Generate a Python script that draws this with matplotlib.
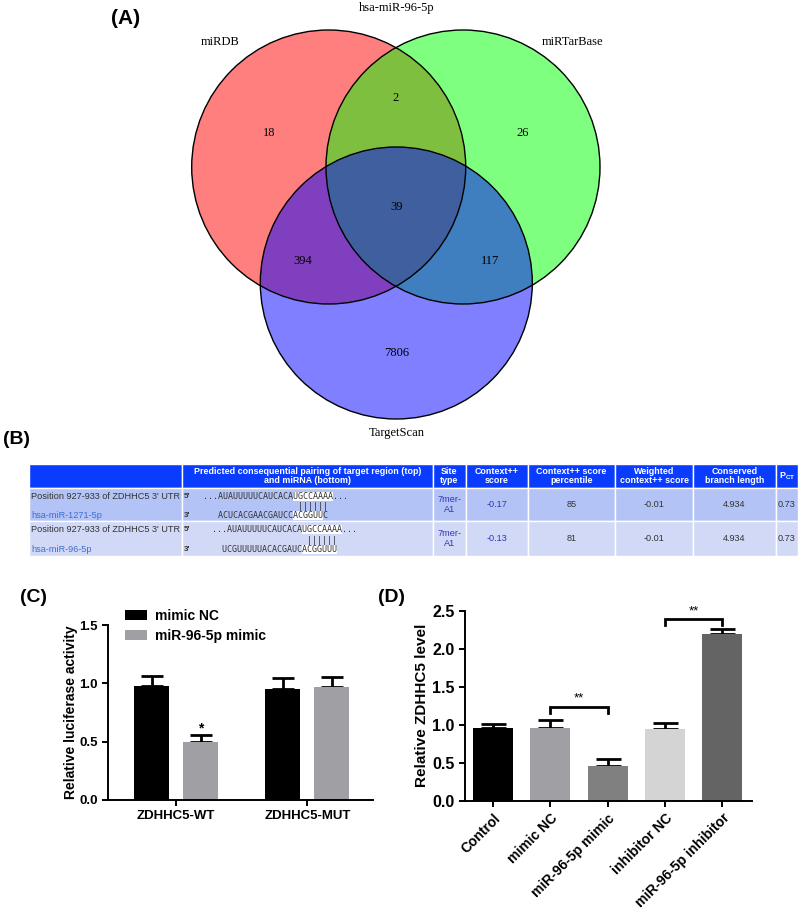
import matplotlib
matplotlib.use("Agg")
import matplotlib.pyplot as plt
from matplotlib.patches import Circle, Rectangle, Patch

plt.rcParams['font.family'] = ['Liberation Sans', 'DejaVu Sans']

# ---------------- data ----------------
venn_title = "hsa-miR-96-5p"
set_names = ["miRDB", "miRTarBase", "TargetScan"]
set_colors = ["#FF0000", "#00FF00", "#0000FF"]
# region counts: miRDB only, miRTarBase only, TargetScan only, DB&TarBase, DB&TS, TarBase&TS, all
region_counts = ["18", "26", "7806", "2", "394", "117", "39"]

table_header = ["", "Predicted consequential pairing of target region (top)\nand miRNA (bottom)",
                "Site\ntype", "Context++\nscore", "Context++ score\npercentile",
                "Weighted\ncontext++ score", "Conserved\nbranch length", r"P$_{\mathregular{CT}}$"]
row_sites = ["Position 927-933 of ZDHHC5 3' UTR", "Position 927-933 of ZDHHC5 3' UTR"]
row_mirnas = ["hsa-miR-1271-5p", "hsa-miR-96-5p"]
target_seqs = ["AUAUUUUUCAUCACAUGCCAAAA", "AUAUUUUUCAUCACAUGCCAAAA"]
mirna_seqs = ["ACUCACGAACGAUCCACGGUUC", "UCGUUUUUACACGAUCACGGUUU"]
site_types = ["7mer-\nA1", "7mer-\nA1"]
context_scores = ["-0.17", "-0.13"]
context_percentiles = ["85", "81"]
weighted_scores = ["-0.01", "-0.01"]
branch_lengths = ["4.934", "4.934"]
pct_values = ["0.73", "0.73"]

luc_groups = ["ZDHHC5-WT", "ZDHHC5-MUT"]
luc_series = ["mimic NC", "miR-96-5p mimic"]
luc_means = [[0.98, 0.955], [0.495, 0.972]]
luc_errs = [[0.085, 0.09], [0.06, 0.085]]
luc_colors = ["#000000", "#A0A0A4"]

lvl_groups = ["Control", "mimic NC", "miR-96-5p mimic", "inhibitor NC", "miR-96-5p inhibitor"]
lvl_means = [0.952, 0.96, 0.46, 0.943, 2.20]
lvl_errs = [0.057, 0.10, 0.084, 0.075, 0.054]
lvl_colors = ["#000000", "#A0A0A4", "#808080", "#D4D4D4", "#646464"]

# ---------------- figure ----------------
fig = plt.figure(figsize=(8, 9.1), dpi=100)
ax0 = fig.add_axes([0, 0, 1, 1])
ax0.set_xlim(0, 800)
ax0.set_ylim(910, 0)
ax0.axis('off')

# ---- (A) Venn ----
centers = [(328.7, 167), (463, 167), (396.3, 283)]
radii = [137, 137, 136]
for (cx, cy), r, col in zip(centers, radii, set_colors):
    ax0.add_patch(Circle((cx, cy), r, facecolor=col, alpha=0.5, edgecolor='none'))
for (cx, cy), r in zip(centers, radii):
    ax0.add_patch(Circle((cx, cy), r, facecolor='none', edgecolor='black', lw=1.0))
serif = ['Liberation Serif', 'DejaVu Serif']
ax0.text(397, 8, venn_title, ha='center', va='center', fontsize=9, family=serif)
name_pos = [(220, 42), (572, 42), (397, 433)]
for (x, y), n in zip(name_pos, set_names):
    ax0.text(x, y, n, ha='center', va='center', fontsize=9, family=serif)
count_pos = [(269, 133), (523, 133), (397, 353), (396, 98), (303, 261), (490, 261), (397, 207)]
for (x, y), c in zip(count_pos, region_counts):
    ax0.text(x, y, c, ha='center', va='center', fontsize=9, family=serif)

# ---- (B) table ----
col_edges = [29, 182, 433, 466, 528, 615, 693, 776, 798]
row_edges = [464, 488, 521, 556]
header_col = "#0A3CFF"
row_cols = ["#B4C3F5", "#D2D9F7"]
for j in range(len(col_edges) - 1):
    ax0.add_patch(Rectangle((col_edges[j], row_edges[0]), col_edges[j + 1] - col_edges[j],
                            row_edges[1] - row_edges[0], facecolor=header_col,
                            edgecolor='white', lw=1.0))
    ax0.text((col_edges[j] + col_edges[j + 1]) / 2, (row_edges[0] + row_edges[1]) / 2,
             table_header[j], ha='center', va='center', color='white', fontsize=6.4,
             fontweight='bold', linespacing=1.0)
for i in range(2):
    y0, y1 = row_edges[i + 1], row_edges[i + 2]
    for j in range(len(col_edges) - 1):
        ax0.add_patch(Rectangle((col_edges[j], y0), col_edges[j + 1] - col_edges[j], y1 - y0,
                                facecolor=row_cols[i], edgecolor='white', lw=1.0))
    h = y1 - y0
    ty, by, my = y0 + 0.25 * h, y0 + 0.55 * h, y0 + 0.82 * h
    txt = '#333333'
    ax0.text(col_edges[0] + 2, ty, row_sites[i], ha='left', va='center', fontsize=6.6, color=txt)
    ax0.text(col_edges[0] + 2, my, row_mirnas[i], ha='left', va='center', fontsize=6.6, color='#3C6ED2')
    # sequences
    ax0.text(col_edges[1] + 2, ty, "5'", ha='left', va='center', fontsize=5.8, color=txt, fontweight='bold')
    ax0.text(col_edges[1] + 2, my, "3'", ha='left', va='center', fontsize=5.8, color=txt, fontweight='bold')
    fs = 6.0
    cw = 0.6021 * fs * 100 / 72
    x0 = [203, 212][i]
    tline = "..." + target_seqs[i] + "..."
    seed_t = target_seqs[i].find("UGCCAAAA") + 3
    moff = [3, 2][i]
    seed_m = mirna_seqs[i].find("ACGGUU") + moff
    mlen = [6, 7][i]
    ax0.add_patch(Rectangle((x0 + seed_t * cw, ty - 4.5), 8 * cw, 9, facecolor='white', edgecolor='none'))
    ax0.add_patch(Rectangle((x0 + seed_m * cw, my - 4.5), mlen * cw, 9, facecolor='white', edgecolor='none'))
    mono = ['DejaVu Sans Mono']
    ax0.text(x0, ty, tline, ha='left', va='center', fontsize=fs, family=mono, color=txt)
    ax0.text(x0, my, " " * moff + mirna_seqs[i], ha='left', va='center', fontsize=fs, family=mono, color=txt)
    ax0.text(x0, by, " " * (seed_t + 1) + "||||||", ha='left', va='center', fontsize=fs,
             family=mono, color=txt)
    vals = [site_types[i], context_scores[i], context_percentiles[i], weighted_scores[i],
            branch_lengths[i], pct_values[i]]
    colors = ['#3333BB', '#3333BB', txt, txt, txt, txt]
    for k, (v, c) in enumerate(zip(vals, colors)):
        j = k + 2
        ax0.text((col_edges[j] + col_edges[j + 1]) / 2, (y0 + y1) / 2, v, ha='center', va='center',
                 fontsize=6.6, color=c, linespacing=1.1)

# panel labels
for x, y, s, fsz in [(140, 18, "(A)", 15), (30, 439, "(B)", 14), (47, 598, "(C)", 14), (405, 598, "(D)", 14)]:
    ax0.text(x, y, s, ha='right', va='center', fontsize=fsz, fontweight='bold')


def style(ax, tick_fs):
    for s in ['top', 'right']:
        ax.spines[s].set_visible(False)
    for s in ['left', 'bottom']:
        ax.spines[s].set_linewidth(1.4)
    ax.tick_params(width=1.4, length=4, labelsize=tick_fs)
    for lab in ax.get_yticklabels() + ax.get_xticklabels():
        lab.set_fontweight('bold')


# ---- (C) ----
axc = fig.add_axes([108 / 800, 110 / 910, 265 / 800, 175 / 910])
xs = range(len(luc_groups))
off = 0.187
w = 0.267
for k in range(2):
    pos = [x + (k * 2 - 1) * off for x in xs]
    axc.bar(pos, luc_means[k], width=w, color=luc_colors[k], label=luc_series[k], zorder=2)
    axc.errorbar(pos, luc_means[k], yerr=[[0] * 2, luc_errs[k]], fmt='none', ecolor='black',
                 elinewidth=2, capsize=8, capthick=2, zorder=1)
axc.text(0 + off, luc_means[1][0] + luc_errs[1][0], "*", ha='center', va='bottom', fontsize=10,
         fontweight='bold')
axc.set_xlim(-0.52, 1.5)
axc.set_ylim(0, 1.5)
axc.set_yticks([0, 0.5, 1.0, 1.5])
axc.set_yticklabels(["0.0", "0.5", "1.0", "1.5"])
axc.set_xticks(list(xs))
axc.set_xticklabels(luc_groups)
axc.set_ylabel("Relative luciferase activity", fontsize=10, fontweight='bold', labelpad=1)
style(axc, 9.5)
handles = [Patch(facecolor=c, label=l) for c, l in zip(luc_colors, luc_series)]
leg = axc.legend(handles=handles, loc='upper left', bbox_to_anchor=(125 / 800, 1 - 609 / 910),
                 bbox_transform=fig.transFigure, frameon=False, borderpad=0, borderaxespad=0,
                 handlelength=1.58, handleheight=0.72, handletextpad=0.58, labelspacing=0.42,
                 prop={'weight': 'bold', 'size': 10})

# ---- (D) ----
axd = fig.add_axes([465 / 800, 109.3 / 910, 287 / 800, 190 / 910])
xd = list(range(len(lvl_groups)))
axd.bar(xd, lvl_means, width=0.70, color=lvl_colors, zorder=2)
for x, m, e in zip(xd, lvl_means, lvl_errs):
    axd.errorbar([x], [m], yerr=[[0], [e]], fmt='none', ecolor='black', elinewidth=2, capsize=9,
                 capthick=2, zorder=1)
brackets = [(1, 2, 1.237, 1.154), (3, 4, 2.387, 2.312)]
for a, b, top, low in brackets:
    axd.plot([a, a, b, b], [low, top, top, low], color='black', lw=2, clip_on=False,
             solid_joinstyle='miter')
    axd.text((a + b) / 2, top + 0.03, "**", ha='center', va='bottom', fontsize=9.5, clip_on=False)
axd.set_xlim(-0.49, 4.52)
axd.set_ylim(0, 2.5)
axd.set_yticks([0, 0.5, 1.0, 1.5, 2.0, 2.5])
axd.set_yticklabels(["0.0", "0.5", "1.0", "1.5", "2.0", "2.5"])
axd.set_xticks(xd)
axd.set_xticklabels(lvl_groups, rotation=45, ha='right', rotation_mode='anchor')
axd.set_ylabel("Relative ZDHHC5 level", fontsize=11, fontweight='bold', labelpad=2)
style(axd, 11.5)
for lab in axd.get_xticklabels():
    lab.set_fontsize(10)

fig.savefig("out.png", dpi=100)
